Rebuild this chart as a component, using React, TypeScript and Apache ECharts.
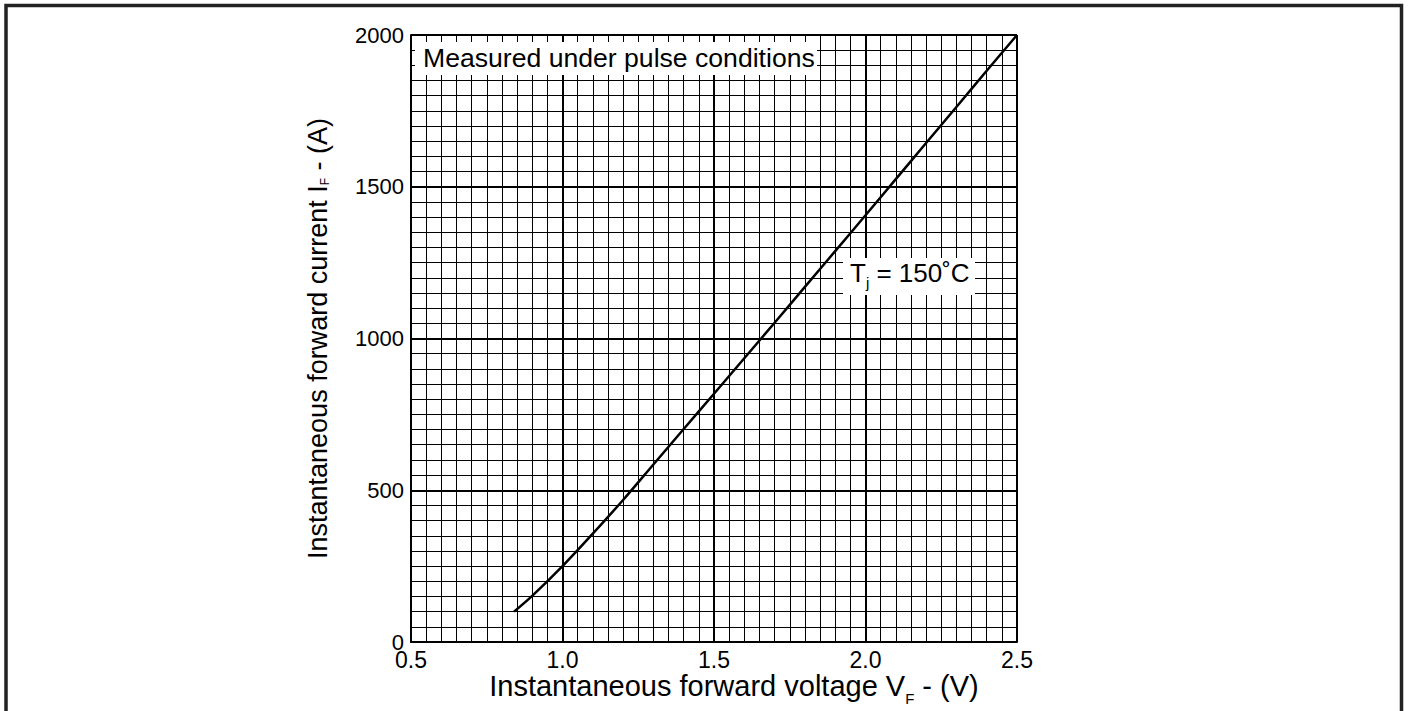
import React, { useEffect, useRef } from "react";
import * as echarts from "echarts";

const voltage = [0.84, 0.9, 1.0, 1.1, 1.2, 1.3, 1.4, 1.5, 1.6, 1.7, 1.8, 1.9, 2.0, 2.1, 2.2, 2.3, 2.4, 2.5];
const current = [100, 152, 250, 357, 468, 585, 702, 818, 935, 1052, 1170, 1288, 1406, 1525, 1644, 1763, 1882, 2000];

const xTitle = "Instantaneous forward voltage V{sub|F} - (V)";
const yTitle = "Instantaneous forward current I{sub|F} - (A)";
const noteText = "Measured under pulse conditions";
const tempText = "T{sub|j} = 150˚C";

const FONT = "'Liberation Sans', Arial, Helvetica, sans-serif";

export default function App() {
  const ref = useRef<HTMLDivElement>(null);
  useEffect(() => {
    if (!ref.current) return;
    const chart = echarts.init(ref.current, undefined, { renderer: "svg" });
    const data = voltage.map((v, i) => [v, current[i]]);
    chart.setOption({
      animation: false,
      backgroundColor: "#fff",
      textStyle: { fontFamily: FONT, color: "#000" },
      grid: {
        left: 411,
        right: 392,
        top: 35,
        bottom: 69,
        containLabel: false,
        outerBoundsMode: "none",
      },
      xAxis: {
        type: "value",
        min: 0.5,
        max: 2.5,
        interval: 0.5,
        axisLine: { show: true, lineStyle: { color: "#000", width: 2 } },
        axisTick: { show: false },
        minorTick: { show: false, splitNumber: 10 },
        splitLine: { show: true, lineStyle: { color: "#000", width: 2 } },
        minorSplitLine: { show: true, lineStyle: { color: "#000", width: 1 } },
        axisLabel: {
          margin: 6,
          fontSize: 23,
          color: "#000",
          fontFamily: FONT,
          formatter: (v: number) => v.toFixed(1),
        },
        name: xTitle,
        nameLocation: "middle",
        nameGap: 23,
        nameMoveOverlap: false,
        nameTextStyle: {
          fontSize: 29,
          color: "#000",
          fontFamily: FONT,
          padding: [0, 0, 0, 40],
          rich: {
            sub: { fontSize: 15, fontFamily: FONT, color: "#000", padding: [26, 0, 0, 0] },
          },
        },
      },
      yAxis: {
        type: "value",
        min: 0,
        max: 2000,
        interval: 500,
        axisLine: { show: true, lineStyle: { color: "#000", width: 2 } },
        axisTick: { show: false },
        minorTick: { show: false, splitNumber: 10 },
        splitLine: { show: true, lineStyle: { color: "#000", width: 2 } },
        minorSplitLine: { show: true, lineStyle: { color: "#000", width: 1 } },
        axisLabel: {
          margin: 7,
          fontSize: 22,
          color: "#000",
          fontFamily: FONT,
          formatter: (v: number) => String(v),
        },
        name: yTitle,
        nameLocation: "middle",
        nameRotate: 90,
        nameGap: 80,
        nameTextStyle: {
          fontSize: 27,
          color: "#000",
          fontFamily: FONT,
          rich: {
            sub: { fontSize: 12, fontFamily: FONT, color: "#000", padding: [14, 0, 0, 0] },
          },
        },
      },
      series: [
        {
          type: "line",
          data,
          smooth: 0.3,
          symbol: "none",
          lineStyle: { color: "#000", width: 2.5 },
          z: 3,
        },
      ],
      graphic: [
        {
          type: "rect",
          z: 100,
          silent: true,
          shape: { x: 6, y: 5.5, width: 1395.5, height: 800 },
          style: { fill: "none", stroke: "#222", lineWidth: 3.5 },
        },
        {
          type: "rect",
          z: 50,
          shape: { x: 415, y: 42, width: 402, height: 33 },
          style: { fill: "#fff" },
        },
        {
          type: "text",
          z: 51,
          x: 423,
          y: 57.7,
          style: {
            text: noteText,
            fontSize: 26.6,
            fontFamily: FONT,
            fill: "#000",
            verticalAlign: "middle",
            align: "left",
          },
        },
        {
          type: "rect",
          z: 50,
          shape: { x: 843, y: 258, width: 132, height: 37 },
          style: { fill: "#fff" },
        },
        {
          type: "text",
          z: 51,
          x: 850,
          y: 272.7,
          style: {
            text: tempText,
            fontSize: 26,
            fontFamily: FONT,
            fill: "#000",
            verticalAlign: "middle",
            align: "left",
            rich: {
              sub: { fontSize: 15, fontFamily: FONT, fill: "#000", padding: [20, 0, 0, 0] },
            },
          },
        },
      ],
    });
    return () => chart.dispose();
  }, []);
  return (
    <div
      ref={ref}
      style={{ position: "absolute", left: 0, top: 0, width: 1409, height: 711, background: "#fff" }}
    />
  );
}
